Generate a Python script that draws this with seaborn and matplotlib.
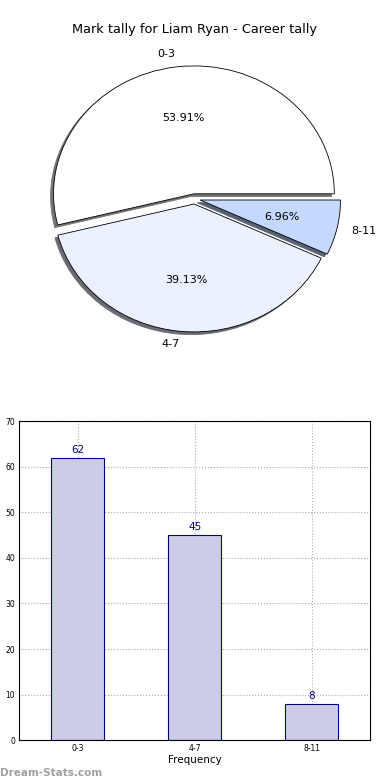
import matplotlib
matplotlib.use("Agg")
import matplotlib.pyplot as plt
import seaborn as sns
import pandas as pd

# --- DATA ---
PLAYER = "Liam Ryan"
CATEGORIES = ["0-3", "4-7", "8-11"]
COUNTS = [62, 45, 8]
PIE_COLOURS = ["#ffffff", "#ebf1ff", "#c5d9ff"]
BAR_COLOUR = "#ccccE6"
EDGE_COLOUR = "#000080"

sns.set_style("white")
plt.rcParams['font.family'] = ['DejaVu Sans']
plt.rcParams['text.color'] = 'black'
plt.rcParams['xtick.color'] = 'black'
plt.rcParams['ytick.color'] = 'black'
plt.rcParams['axes.labelcolor'] = 'black'

fig = plt.figure(figsize=(3.9, 7.8), dpi=100)

# --- pie ---
ax_pie = fig.add_axes([0.049, 0.54, 0.90, 0.41])
wedges, texts, autotexts = ax_pie.pie(
    COUNTS, labels=CATEGORIES, colors=PIE_COLOURS, autopct='%1.2f%%',
    explode=[0.04] * len(COUNTS),
    shadow={'ox': -0.015, 'oy': -0.015, 'shade': 0.55, 'alpha': 1.0}, startangle=0,
    wedgeprops={'edgecolor': 'black', 'linewidth': 0.6},
    textprops={'fontsize': 8, 'color': 'black'})
ax_pie.set_aspect('auto')
ax_pie.set_xlim(-1.25, 1.25)
ax_pie.set_ylim(-1.25, 1.25)
ax_pie.set_title(f"Mark tally for {PLAYER} - Career tally", fontsize=9.3, pad=4,
                 color='black')

# --- bars ---
ax_bar = fig.add_axes([0.049, 0.051, 0.90, 0.409])
df = pd.DataFrame({'band': CATEGORIES, 'count': COUNTS})
sns.barplot(data=df, x='band', y='count', ax=ax_bar, color=BAR_COLOUR,
            saturation=1, width=0.45, edgecolor=EDGE_COLOUR, linewidth=0.8)
for i, v in enumerate(COUNTS):
    ax_bar.text(i, v + 0.6, str(v), ha='center', va='bottom', color=EDGE_COLOUR, fontsize=7.5)
ax_bar.set_ylim(0, 70)
ax_bar.set_yticks(range(0, 71, 10))
ax_bar.set_xlabel('Frequency', fontsize=7.5, labelpad=1)
ax_bar.set_ylabel('')
ax_bar.tick_params(axis='both', labelsize=5.5, direction='in', length=3, pad=3)
ax_bar.grid(True, linestyle=':', color='#aaaaaa', linewidth=0.8)
ax_bar.set_axisbelow(True)
for s in ax_bar.spines.values():
    s.set_color('black')
    s.set_linewidth(0.8)

fig.text(0.0, 0.005, "Dream-Stats.com", fontsize=7.5, color='#a0a0a0', fontweight='bold')

fig.savefig("out.png", dpi=100)
